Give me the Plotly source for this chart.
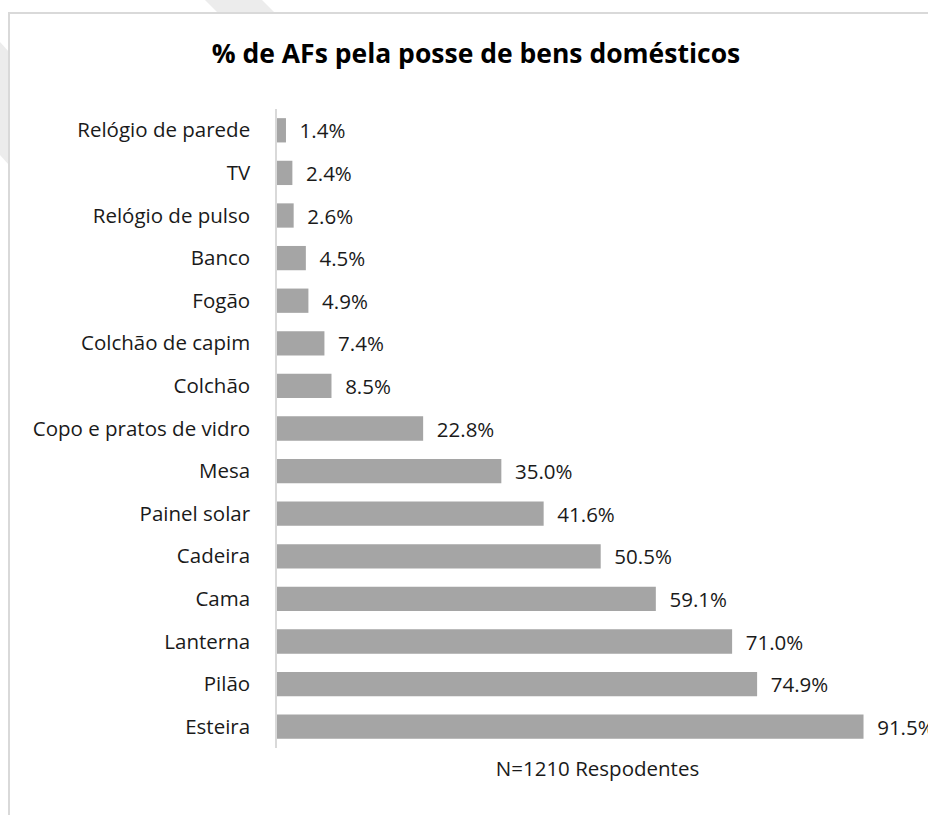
import plotly.graph_objects as go

# itens e % de agregados familiares (de cima para baixo)
itens = ["Relógio de parede", "TV", "Relógio de pulso", "Banco", "Fogão",
         "Colchão de capim", "Colchão", "Copo e pratos de vidro", "Mesa",
         "Painel solar", "Cadeira", "Cama", "Lanterna", "Pilão", "Esteira"]
percentagens = [1.4, 2.4, 2.6, 4.5, 4.9, 7.4, 8.5, 22.8, 35.0, 41.6, 50.5, 59.1, 71.0, 74.9, 91.5]

W, H = 928, 815
L, R, T, B = 277, 10, 109, 67
pw, ph = W - L - R, H - T - B


def px(x, y):
    # pixel -> paper coords (for the frame and watermark decoration)
    return (x - L) / pw, (H - B - y) / ph


fonte = "'Open Sans', sans-serif"

fig = go.Figure()
fig.add_trace(go.Bar(
    x=percentagens, y=itens, orientation="h",
    marker=dict(color="#a5a5a5", line=dict(width=0)),
    texttemplate="  %{x:.1f}%", textposition="outside",
    textfont=dict(family=fonte, size=20.5, color="#1a1a1a"),
    constraintext="none", cliponaxis=False, hoverinfo="skip",
))

# faint watermark stripes and chart frame
shapes = []
for poly in ([(205, 0), (262, 0), (275, 13), (218, 13)],
             [(0, 42), (9, 52), (9, 165), (0, 155)]):
    pts = [px(*p) for p in poly]
    path = "M " + " L ".join(f"{a},{b}" for a, b in pts) + " Z"
    shapes.append(dict(type="path", xref="paper", yref="paper", path=path,
                       fillcolor="#ececec", line=dict(width=0), layer="below"))
x0, y1 = px(9, 13)
x1, y0 = px(940, 830)
shapes.append(dict(type="rect", xref="paper", yref="paper", x0=x0, x1=x1, y0=y0, y1=y1,
                   line=dict(color="#d9d9d9", width=2), fillcolor="rgba(0,0,0,0)",
                   layer="below"))

fig.update_layout(
    width=W, height=H,
    margin=dict(l=L, r=R, t=T, b=B),
    paper_bgcolor="white", plot_bgcolor="white",
    bargap=0.43, showlegend=False,
    font=dict(family=fonte, size=20.5, color="#1a1a1a"),
    title=dict(text="<b>% de AFs pela posse de bens domésticos</b>",
               x=476 / W, xanchor="center", xref="container",
               y=1 - 54 / H, yanchor="middle", yref="container",
               font=dict(family=fonte, size=26.5, color="#000000")),
    xaxis=dict(range=[0, 100], showgrid=False, zeroline=False, showline=False,
               showticklabels=False, ticks="", fixedrange=True,
               title=dict(text="N=1210 Respodentes", standoff=13,
                          font=dict(family=fonte, size=20.5, color="#1a1a1a"))),
    yaxis=dict(autorange="reversed", showgrid=False, zeroline=False,
               showline=True, linecolor="#d9d9d9", linewidth=1.5,
               ticks="outside", ticklen=21, tickcolor="rgba(0,0,0,0)",
               tickfont=dict(family=fonte, size=20.5, color="#1a1a1a")),
    shapes=shapes,
)

fig.write_html("out.html", config={"displayModeBar": False},
               post_script="document.body.style.margin='0';document.body.style.overflow='hidden';")
